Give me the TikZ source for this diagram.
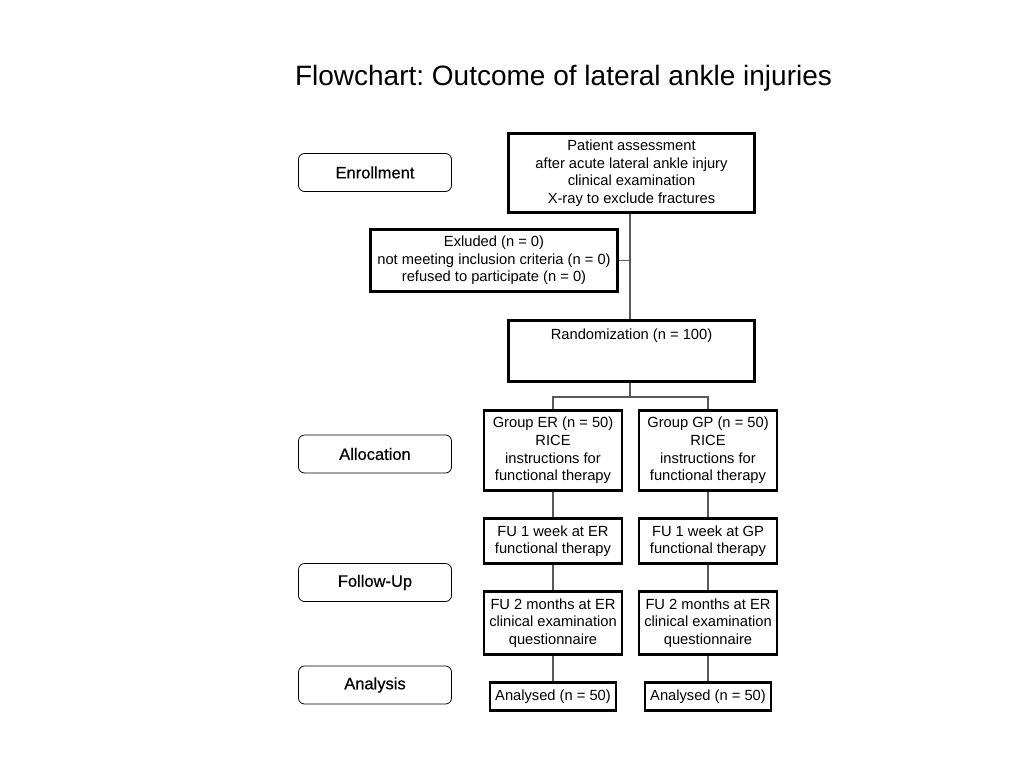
\documentclass[tikz,border=0pt]{standalone}
\usepackage{fontspec}
\setmainfont{Liberation Sans}
\newfontfamily\stagefont[FakeBold=0.5]{Liberation Sans}
\frenchspacing
\begin{document}
\begin{tikzpicture}[x=1pt,y=-1pt,
  box/.style={draw=black, line width=2.8pt, align=center, inner sep=0pt,
    font=\fontsize{14.7}{17.6}\selectfont},
  stage/.style={draw=black, line width=0.8pt, rounded corners=6pt, inner sep=0pt,
    minimum width=153pt, minimum height=38pt, font=\stagefont\fontsize{16.5}{19}\selectfont},
  conn/.style={draw=black!65, line width=1.1pt}]
\useasboundingbox (0,0) rectangle (1024,768);
\node[anchor=base, font=\fontsize{28}{32}\selectfont] (title) at (563.5,85) {Flowchart: Outcome of lateral ankle injuries};
% stage labels
\node[stage] (enr) at (375,172.5) {Enrollment};
\node[stage] (alloc) at (375,454) {Allocation};
\node[stage] (fu) at (375,582.5) {Follow-Up};
\node[stage] (ana) at (375,685) {Analysis};
% main boxes
\node[box, minimum width=246pt, minimum height=79pt] (pat) at (631.5,173)
  {Patient assessment\\after acute lateral ankle injury\\clinical examination\\X-ray to exclude fractures};
\node[box, minimum width=247pt, minimum height=62pt] (exc) at (494,260.5)
  {Exluded (n = 0)\\not meeting inclusion criteria (n = 0)\\refused to participate (n = 0)};
\node[box, minimum width=246pt, text height=19pt, text depth=42pt] (rand) at (631.5,351)
  {Randomization (n = 100)};
\node[box, minimum width=138pt, minimum height=80pt] (ger) at (553,450.5)
  {Group ER (n = 50)\\RICE\\instructions for\\functional therapy};
\node[box, minimum width=138pt, minimum height=80pt] (ggp) at (708,450.5)
  {Group GP (n = 50)\\RICE\\instructions for\\functional therapy};
\node[box, minimum width=138pt, minimum height=45pt] (fer) at (553,541)
  {FU 1 week at ER\\functional therapy};
\node[box, minimum width=138pt, minimum height=45pt] (fgp) at (708,541)
  {FU 1 week at GP\\functional therapy};
\node[box, minimum width=138pt, minimum height=63pt] (ser) at (553,623)
  {FU 2 months at ER\\clinical examination\\questionnaire};
\node[box, minimum width=138pt, minimum height=63pt] (sgp) at (708,623)
  {FU 2 months at ER\\clinical examination\\questionnaire};
\node[box, minimum width=126pt, minimum height=28pt] (aer) at (553,696.5)
  {Analysed (n = 50)};
\node[box, minimum width=126pt, minimum height=28pt] (agp) at (708,696.5)
  {Analysed (n = 50)};
% connectors
\coordinate (split) at (630,397);
\draw[conn] (pat.south -| split) -- (rand.north -| split);
\draw[conn] (exc.east) -- (exc.east -| split);
\draw[conn] (rand.south -| split) -- (split);
\draw[conn] (ger.north) |- (split) -| (ggp.north);
\draw[conn] (ger.south) -- (fer.north);
\draw[conn] (fer.south) -- (ser.north);
\draw[conn] (ser.south) -- (aer.north);
\draw[conn] (ggp.south) -- (fgp.north);
\draw[conn] (fgp.south) -- (sgp.north);
\draw[conn] (sgp.south) -- (agp.north);
\end{tikzpicture}
\end{document}
